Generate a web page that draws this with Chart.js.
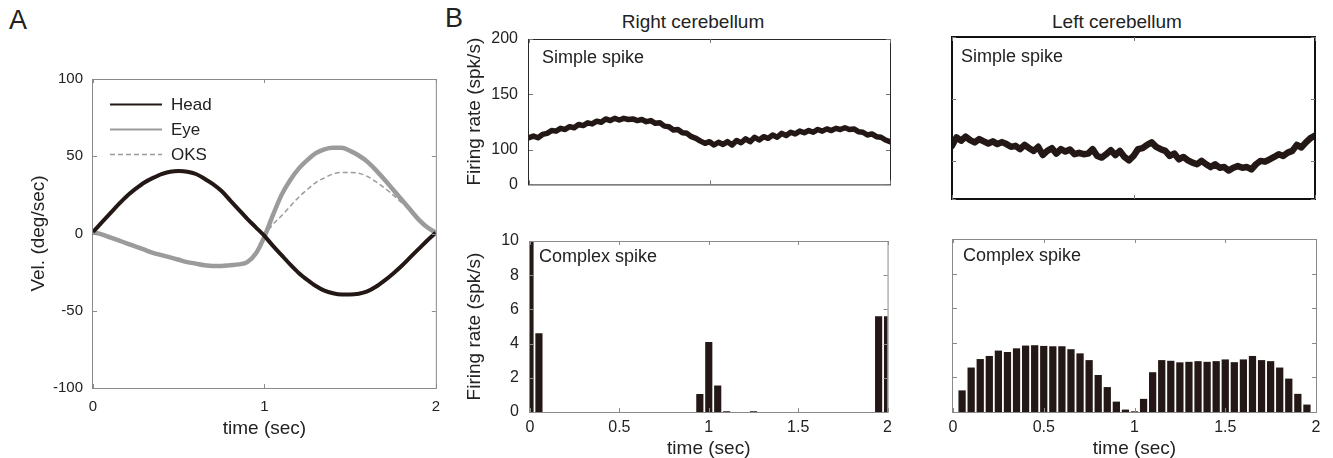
<!DOCTYPE html>
<html><head><meta charset="utf-8">
<script src="https://cdn.jsdelivr.net/npm/chart.js@4.4.1/dist/chart.umd.min.js"></script>
<style>
html,body{margin:0;padding:0;background:#fff;}
#wrap{position:relative;width:1333px;height:458px;overflow:hidden;font-family:"Liberation Sans",Arial,sans-serif;color:#222;}
canvas{position:absolute;}
.t{position:absolute;white-space:nowrap;}
</style></head><body>
<div id="wrap">
  <div class="t" style="left:9px;top:7px;font-size:27px;line-height:27px;">A</div>
  <div class="t" style="left:445px;top:5px;font-size:27px;line-height:27px;">B</div>
  <div class="t" style="left:543px;width:300px;text-align:center;top:12px;font-size:19px;line-height:19px;">Right cerebellum</div>
  <div class="t" style="left:967px;width:300px;text-align:center;top:12px;font-size:19px;line-height:19px;">Left cerebellum</div>
  <canvas id="cA" width="450" height="398" style="left:0;top:60px"></canvas>
  <canvas id="cSSR" width="455" height="205" style="left:440px;top:0"></canvas>
  <canvas id="cSSL" width="420" height="205" style="left:900px;top:0"></canvas>
  <canvas id="cCSR" width="458" height="238" style="left:440px;top:220px"></canvas>
  <canvas id="cCSL" width="433" height="238" style="left:900px;top:220px"></canvas>
  <div class="t" style="left:542px;top:48px;font-size:18px;line-height:18px;">Simple spike</div>
  <div class="t" style="left:961px;top:47px;font-size:18px;line-height:18px;">Simple spike</div>
  <div class="t" style="left:539px;top:247px;font-size:18px;line-height:18px;">Complex spike</div>
  <div class="t" style="left:963px;top:246px;font-size:18px;line-height:18px;">Complex spike</div>
</div>
<script>
// ---------- Panel A data (velocity, deg/sec) ----------
const timeA = [0,0.05,0.1,0.15,0.2,0.25,0.3,0.35,0.4,0.45,0.5,0.55,0.6,0.65,0.7,0.75,0.8,0.85,0.9,0.95,1,
  1.05,1.1,1.15,1.2,1.25,1.3,1.35,1.4,1.45,1.5,1.55,1.6,1.65,1.7,1.75,1.8,1.85,1.9,1.95,2];
const headVel = [1,7,13,19,24.5,29,33,36,38.5,40,40.5,40,38.5,35.5,32,27.5,21.5,15.5,9.5,4,-1.5,
  -8,-14,-20,-25.5,-30,-34,-37,-38.7,-39.5,-39.5,-39,-37.5,-34.5,-30.5,-26,-21,-15.5,-10,-4.5,0.5];
const eyeVel = [1,-0.5,-2.5,-4.5,-6.5,-8.5,-10.5,-12.5,-14,-15.5,-17,-18.5,-19.5,-20.5,-21,-21,-20.5,-20,-18.5,-13,-2,
  12,25,34.5,42,47.5,52,54.5,55.5,55.5,53.5,50.5,46.5,41,35,28.5,22,15.5,9,4,0.5];
const oksVel = [1,7,13,19,24.5,29.5,33.5,36.5,39,40.5,41,40.5,39,36,32.5,28,22,16,10,4.5,0,
  6,11.5,17.5,23.5,28.5,33,36,38.5,39.5,39.5,39,37,33.5,29.5,25,20,15,10,5,0.5];
const seriesNamesA = ['Head','Eye','OKS'];
const yTicksA = [-100,-50,0,50,100];
const xTicksA = [0,1,2];

// ---------- Panel B simple spike (spk/s), sampled every 0.025 s ----------
const ssTime = Array.from({length:81}, (_, i) => +(i * 0.025).toFixed(3));
const ssRight = [111,112.5,111,114,115,117.5,117,119.5,118.5,121,
  120,123,122,124.5,123.5,126,125,128,126.5,128.5,
  127,128.5,127.5,128,126.5,127.5,125.5,126.5,124,124.5,
  121.5,121,118,118.5,115.5,115,112,110.5,108,106,
  107.5,104.5,107,105,107.5,104.5,108.5,106.5,110,107.5,
  111.5,109,112,110.5,113.5,111.5,115,113,116,114.5,
  117,115.5,117.5,116,118.5,117,119,117.5,119.5,118.5,
  120,118.5,119,116.5,116,113.5,114.5,112,111.5,109,
  107.5];
const ssLeft = [112,118.9,116.1,119.4,116.6,114.8,117.5,115.6,113.9,115.6,
  113.4,115,113.4,111.2,112,109.3,112.8,110.1,107.9,111.2,
  104.6,107.9,110.1,105.7,109.3,107.4,109,105.2,106.3,105.2,
  105.7,109.3,103.8,102.5,105.2,108.5,104.6,107.9,103,100.3,
  103.8,109.3,110.1,112.8,114.8,111.2,109.3,107.9,103.8,105.7,
  101.1,103,100.3,98.4,97.1,99.8,97.1,94.8,97.1,94.3,
  94.8,92,94.3,95.6,94.3,94.8,92.9,97.1,99.8,99.2,
  101.1,103,105.2,103.8,106.5,107.9,112.8,110.7,114.8,118.3,
  120.2];
const ssTickValues = [69,100,150,200];
const ssTickLabels = ['0','100','150','200'];

// ---------- Panel B complex spike histograms (spk/s), bins every 0.05 s ----------
const csTime = Array.from({length:41}, (_, i) => +(i * 0.05).toFixed(2));
const csRight = [11,4.6,0,0,0,0,0,0,0,0,
  0,0,0,0,0,0,0,0,0,1.05,
  4.1,1.55,0.05,0,0,0.05,0,0,0,0,
  0,0,0,0,0,0,0,0,0,5.6,
  5.6];
const csLeft = [0,1.25,2.57,3.06,3.24,3.55,3.47,3.68,3.84,3.86,
  3.82,3.8,3.8,3.63,3.39,3.0,2.14,1.44,0.6,0.14,
  0.04,0.76,2.3,3.0,2.96,2.87,2.9,2.94,2.9,2.94,
  3.04,2.88,3.04,3.24,3.0,2.94,2.57,1.93,1.05,0.43,
  0];
const xTicksB = [0,0.5,1,1.5,2];
const yTicksCS = [0,2,4,6,8,10];

// ---------- styling ----------
const FONT = '"Liberation Sans", Arial, sans-serif';
const INK = '#231815';
Chart.defaults.font.family = FONT;
Chart.defaults.color = '#222';
Chart.defaults.animation = false;

const framePlugin = {
  id: 'frame',
  afterDatasetsDraw(chart, args, o) {
    const {ctx, chartArea: a, scales} = chart;
    ctx.save();
    ctx.strokeStyle = o.color; ctx.lineWidth = o.width;
    const off = (o.width % 2 === 1) ? 0.5 : 0;
    ctx.strokeRect(a.left - off, a.top + off, a.right - a.left + 2*off, a.bottom - a.top);
    ctx.lineWidth = 1; ctx.strokeStyle = o.tickColor || o.color;
    const len = 4;
    ctx.beginPath();
    scales.x.ticks.forEach(t => {
      const p = Math.round(scales.x.getPixelForValue(t.value)) + 0.5;
      ctx.moveTo(p, a.bottom); ctx.lineTo(p, a.bottom - len);
      ctx.moveTo(p, a.top); ctx.lineTo(p, a.top + len);
    });
    scales.y.ticks.forEach(t => {
      const p = Math.round(scales.y.getPixelForValue(t.value)) + 0.5;
      ctx.moveTo(a.left, p); ctx.lineTo(a.left + len, p);
      ctx.moveTo(a.right, p); ctx.lineTo(a.right - len, p);
    });
    ctx.stroke();
    ctx.restore();
  }
};
Chart.register(framePlugin);

const legendA = {
  id: 'legendA',
  afterDraw(chart) {
    const {ctx, chartArea: a} = chart;
    ctx.save();
    chart.data.datasets.forEach((ds, i) => {
      const y = Math.round(a.top + 25 + i * 25) + 0.5;
      ctx.beginPath();
      ctx.strokeStyle = ds.borderColor;
      ctx.lineWidth = ds.borderDash ? 1.5 : 2;
      ctx.setLineDash(ds.borderDash || []);
      ctx.moveTo(a.left + 17, y); ctx.lineTo(a.left + 69, y); ctx.stroke();
      ctx.setLineDash([]);
      ctx.fillStyle = '#222';
      ctx.font = '17px ' + FONT;
      ctx.textBaseline = 'middle';
      ctx.fillText(ds.label, a.left + 78, y + 1);
    });
    ctx.restore();
  }
};

const noGrid = {display: false, drawTicks: false, tickLength: 0};
function xScale({min, max, ticks, show, fs, pad, title, h}) {
  return {
    type: 'linear', min, max, offset: false,
    grid: noGrid, border: {display: false},
    afterBuildTicks: s => { s.ticks = ticks.map(v => ({value: v})); },
    ticks: {display: show, font: {size: fs}, padding: pad, maxRotation: 0, autoSkip: false, callback: v => String(v)},
    title: title ? {display: true, text: title.text, font: {size: 19, lineHeight: 1}, padding: {top: 0, bottom: title.pad}} : {display: false},
    afterFit: s => { s.height = h; }
  };
}
function yScale({min, max, ticks, labels, show, fs, pad, title, w}) {
  return {
    min, max,
    grid: noGrid, border: {display: false},
    afterBuildTicks: s => { s.ticks = ticks.map(v => ({value: v})); },
    ticks: {display: show, font: {size: fs}, padding: pad, autoSkip: false,
      callback: (v) => labels ? labels[ticks.indexOf(v)] : String(v)},
    title: title ? {display: true, text: title.text, font: {size: 19, lineHeight: 1}, padding: {top: title.pad, bottom: 0}} : {display: false},
    afterFit: s => { s.width = w; }
  };
}
const pts = (xs, ys) => xs.map((x, i) => ({x, y: ys[i]}));
const basePlugins = {legend: {display: false}, tooltip: {enabled: false}};

// ---------- Panel A ----------
new Chart(document.getElementById('cA'), {
  type: 'line',
  data: {datasets: [
    {label: seriesNamesA[0], data: pts(timeA, headVel), borderColor: INK, borderWidth: 4, cubicInterpolationMode: 'monotone', pointRadius: 0},
    {label: seriesNamesA[1], data: pts(timeA, eyeVel), borderColor: '#9b9b9b', borderWidth: 4.5, cubicInterpolationMode: 'monotone', pointRadius: 0},
    {label: seriesNamesA[2], data: pts(timeA, oksVel), borderColor: '#9b9b9b', borderWidth: 1.5, borderDash: [5, 3], cubicInterpolationMode: 'monotone', pointRadius: 0}
  ]},
  options: {
    responsive: false, animation: false,
    layout: {padding: {top: 17, right: 14, left: 0, bottom: 0}},
    scales: {
      x: xScale({min: 0, max: 2, ticks: xTicksA, show: true, fs: 15, pad: 10, title: {text: 'time (sec)', pad: 20}, h: 70}),
      y: yScale({min: -100, max: 100, ticks: yTicksA, show: true, fs: 15, pad: 10, title: {text: 'Vel. (deg/sec)', pad: 29}, w: 93})
    },
    plugins: Object.assign({}, basePlugins, {frame: {color: '#8a8a8a', width: 1}})
  },
  plugins: [legendA]
});

// ---------- Simple spike panels ----------
function ssChart(id, values, showY, padTop, yW, frameColor, frameWidth, lw) {
  return new Chart(document.getElementById(id), {
    type: 'line',
    data: {datasets: [{label: 'Simple spike', data: pts(ssTime, values), borderColor: INK, borderWidth: lw, tension: 0, pointRadius: 0, borderJoinStyle: 'round', borderCapStyle: 'round'}]},
    options: {
      responsive: false, animation: false,
      layout: {padding: {top: padTop, right: 5, left: 0, bottom: 0}},
      scales: {
        x: xScale({min: 0, max: 2, ticks: xTicksA, show: false, fs: 16, pad: 6, title: null, h: 6}),
        y: yScale({min: 69, max: 200, ticks: ssTickValues, labels: ssTickLabels, show: showY, fs: 16, pad: 11,
          title: showY ? {text: 'Firing rate (spk/s)', pad: 25} : null, w: yW})
      },
      plugins: Object.assign({}, basePlugins, {frame: {color: frameColor, width: frameWidth, tickColor: '#777'}})
    }
  });
}
ssChart('cSSR', ssRight, true, 39, 89, '#2a2a2a', 1, 5.5);
ssChart('cSSL', ssLeft, false, 37, 52, '#111', 2, 6.5);

// ---------- Complex spike panels ----------
function csChart(id, values, showY, padTop, padRight, yW) {
  return new Chart(document.getElementById(id), {
    type: 'bar',
    data: {datasets: [{label: 'Complex spike', data: pts(csTime, values), backgroundColor: INK, borderWidth: 0, barPercentage: 0.8, categoryPercentage: 1}]},
    options: {
      responsive: false, animation: false,
      layout: {padding: {top: padTop, right: padRight, left: 0, bottom: 0}},
      scales: {
        x: xScale({min: 0, max: 2, ticks: xTicksB, show: true, fs: 16, pad: 6, title: {text: 'time (sec)', pad: 0}, h: 46}),
        y: yScale({min: 0, max: 10, ticks: yTicksCS, show: showY, fs: 16, pad: 11,
          title: showY ? {text: 'Firing rate (spk/s)', pad: 25} : null, w: yW})
      },
      plugins: Object.assign({}, basePlugins, {frame: {color: '#8a8a8a', width: 1}})
    }
  });
}
csChart('cCSR', csRight, true, 21, 5, 90);
csChart('cCSL', csLeft, false, 19, 17, 53);
</script>
</body></html>
